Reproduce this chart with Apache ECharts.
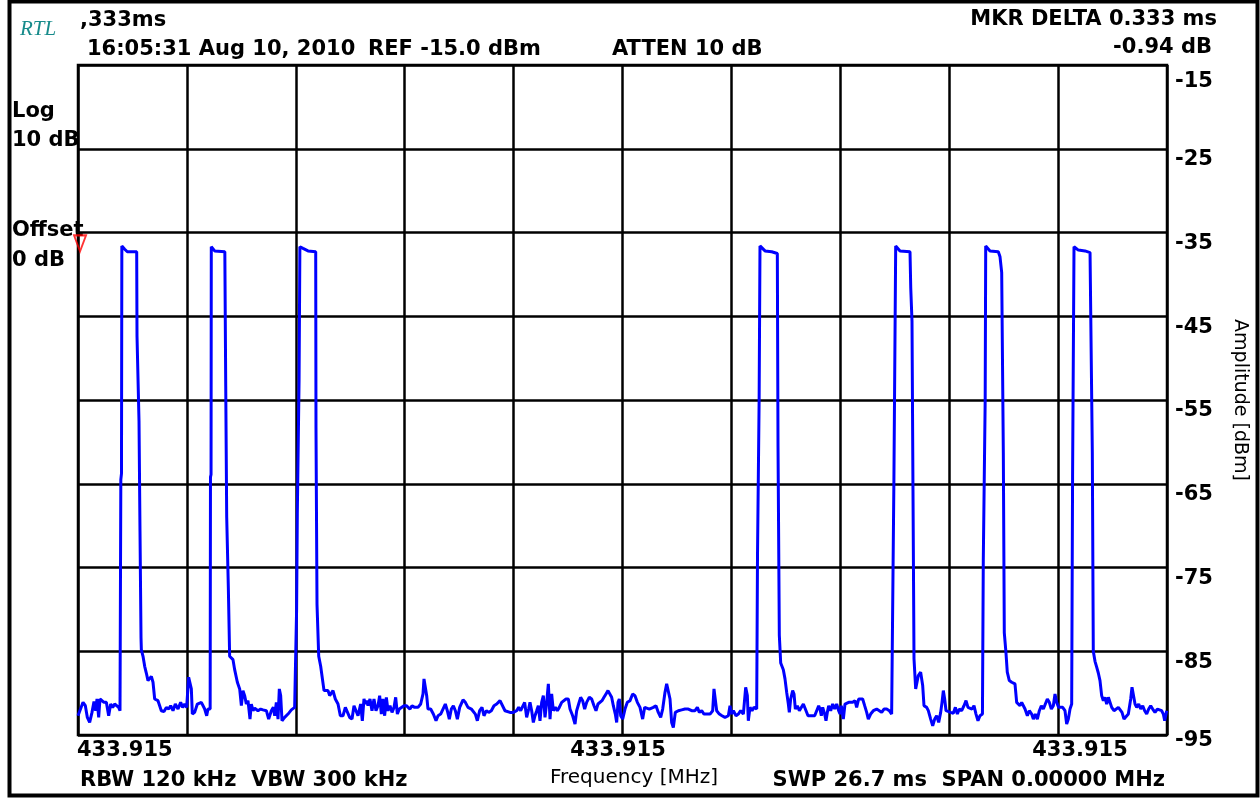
<!DOCTYPE html>
<html>
<head>
<meta charset="utf-8">
<script src="https://cdn.jsdelivr.net/npm/echarts@6/dist/echarts.min.js"></script>
<style>
  html, body { margin: 0; padding: 0; background: #fff; }
  #chart { width: 1260px; height: 799px; }
</style>
</head>
<body>
<div id="chart"></div>
<script>
// amplitude axis ticks (dBm)
var yTicks = [-15, -25, -35, -45, -55, -65, -75, -85, -95];
var sweepMs = 26.7;

// zero-span trace: [time ms, level dBm]
var trace = [
  [0.000,-92.7],[0.123,-91.1],[0.180,-91.5],[0.229,-92.9],[0.286,-93.5],[0.343,-92.3],[0.392,-91.0],[0.433,-92.1],[0.466,-90.7],[0.507,-92.9],[0.539,-90.7],[0.588,-90.7],[0.637,-91.1],[0.695,-91.1],[0.752,-92.7],[0.801,-91.3],[0.850,-91.7],[0.899,-91.3],[0.948,-91.1],[0.997,-91.7],[1.030,-92.1],
  [1.040,-92.2],[1.050,-64.5],[1.066,-63.8],[1.075,-36.6],[1.145,-37.0],[1.209,-37.3],[1.439,-37.3],[1.447,-47.4],[1.478,-47.6],[1.496,-57.6],[1.520,-70.6],[1.545,-83.4],[1.553,-84.8],[1.594,-85.6],[1.635,-86.8],[1.675,-87.6],[1.716,-88.5],[1.757,-88.3],[1.798,-88.0],[1.839,-88.7],[1.880,-90.7],[1.961,-90.9],[2.043,-92.1],[2.109,-92.2],[2.166,-91.7],[2.223,-91.9],[2.272,-91.5],[2.329,-92.1],[2.386,-91.3],[2.452,-91.9],[2.517,-91.1],[2.566,-91.7],[2.615,-91.3],[2.664,-91.7],[2.713,-88.1],[2.746,-88.0],[2.779,-89.5],[2.803,-92.5],[2.860,-92.3],[2.926,-91.3],[2.975,-91.5],[3.024,-91.1],[3.073,-91.3],[3.106,-91.9],[3.155,-92.7],[3.187,-91.9],[3.228,-91.7],
  [3.240,-91.9],[3.248,-64.2],[3.262,-63.9],[3.268,-36.7],[3.350,-37.2],[3.600,-37.3],[3.622,-53.3],[3.646,-69.0],[3.686,-77.4],[3.718,-85.6],[3.800,-86.0],[3.841,-87.2],[3.907,-88.7],[3.964,-89.5],[4.005,-91.5],[4.045,-89.7],[4.086,-90.3],[4.127,-91.3],[4.168,-90.9],[4.217,-93.1],[4.250,-91.3],[4.291,-92.1],[4.332,-91.8],[4.413,-92.1],[4.479,-91.9],[4.536,-92.0],[4.618,-92.1],[4.675,-93.1],[4.740,-92.1],[4.789,-91.7],[4.822,-92.7],[4.863,-91.1],[4.904,-93.1],[4.936,-89.5],[4.969,-90.3],[5.002,-93.3],[5.067,-92.9],[5.149,-92.5],[5.231,-92.0],[5.312,-91.7],[5.345,-91.5],
  [5.357,-91.5],[5.360,-80.0],[5.377,-68.6],[5.420,-52.7],[5.440,-36.7],[5.517,-36.9],[5.639,-37.2],[5.828,-37.3],[5.835,-58.3],[5.860,-79.4],[5.902,-85.6],[5.950,-86.8],[6.032,-89.7],[6.130,-89.7],[6.170,-90.3],[6.252,-89.7],[6.309,-90.7],[6.375,-91.3],[6.432,-92.7],[6.497,-92.7],[6.555,-91.7],[6.604,-91.5],[6.661,-92.9],[6.718,-93.1],[6.767,-91.5],[6.816,-91.3],[6.865,-92.7],[6.930,-91.3],[6.971,-93.3],[7.012,-90.7],[7.045,-91.3],[7.078,-90.9],[7.110,-91.5],[7.159,-90.7],[7.208,-92.1],[7.257,-90.7],[7.306,-92.1],[7.355,-91.5],[7.396,-90.3],[7.437,-92.5],[7.478,-90.7],[7.519,-92.7],[7.560,-90.5],[7.601,-92.1],[7.650,-91.5],[7.699,-92.3],[7.748,-91.7],[7.789,-90.5],[7.830,-92.5],[7.878,-91.9],[7.927,-92.1],[7.993,-91.5],
  [8.050,-91.5],[8.091,-91.3],[8.140,-91.9],[8.189,-91.5],[8.254,-91.7],[8.336,-91.7],[8.402,-91.3],[8.459,-90.1],[8.483,-88.3],[8.516,-88.5],[8.549,-90.3],[8.581,-91.9],[8.647,-91.9],[8.712,-92.5],[8.778,-93.3],[8.827,-92.7],[8.892,-92.5],[8.949,-91.9],[9.006,-91.3],[9.055,-92.1],[9.104,-93.1],[9.153,-91.9],[9.203,-91.5],[9.252,-92.1],[9.301,-93.1],[9.358,-91.7],[9.440,-90.8],[9.497,-91.1],[9.562,-91.7],[9.644,-91.9],[9.693,-91.8],[9.742,-92.5],[9.791,-93.3],[9.848,-92.1],[9.905,-91.7],[9.954,-92.7],[10.012,-92.1],[10.069,-92.3],[10.134,-92.1],[10.199,-91.5],[10.265,-91.3],
  [10.347,-90.9],[10.396,-91.1],[10.469,-92.1],[10.592,-92.3],[10.673,-92.3],[10.755,-92.1],[10.804,-91.7],[10.853,-92.1],[10.902,-92.3],[10.951,-91.1],[11.000,-92.9],[11.049,-91.9],[11.082,-91.1],[11.123,-92.1],[11.164,-93.5],[11.205,-92.7],[11.246,-92.1],[11.286,-91.5],[11.327,-93.3],[11.368,-91.1],[11.409,-90.3],[11.450,-92.9],[11.491,-91.1],[11.532,-88.9],[11.573,-93.1],[11.613,-90.1],[11.654,-92.1],[11.703,-91.7],[11.752,-92.1],[11.801,-91.7],[11.859,-91.1],[11.899,-90.9],[11.965,-90.7],[12.022,-90.7],[12.063,-91.9],[12.128,-92.7],[12.186,-93.7],[12.226,-92.1],[12.275,-91.3],[12.324,-90.5],[12.373,-90.9],[12.422,-91.9],[12.471,-91.1],[12.537,-90.5],[12.594,-90.7],[12.651,-91.5],[12.700,-92.1],[12.749,-91.3],[12.798,-91.1],[12.847,-90.9],[12.896,-90.5],[12.945,-90.1],[12.994,-89.7],[13.043,-89.9],[13.084,-90.5],[13.125,-91.5],[13.174,-92.5],[13.207,-93.5],[13.240,-91.1],[13.272,-90.7],[13.305,-92.7],[13.354,-93.1],[13.411,-91.9],[13.469,-91.1],[13.534,-90.9],[13.599,-90.1],[13.656,-90.3],[13.714,-91.1],[13.779,-91.7],[13.844,-93.1],[13.894,-91.7],[13.943,-91.5],
  [14.008,-91.9],[14.057,-92.1],[14.106,-91.7],[14.171,-91.5],[14.228,-92.3],[14.286,-92.9],[14.335,-91.9],[14.392,-89.9],[14.433,-88.9],[14.474,-88.7],[14.515,-90.7],[14.555,-93.5],[14.596,-94.1],[14.645,-92.3],[14.719,-92.1],[14.800,-92.0],[14.882,-91.9],[14.964,-91.9],[15.046,-92.1],[15.128,-92.1],[15.185,-91.7],[15.234,-92.3],[15.291,-92.1],[15.348,-92.5],[15.414,-92.5],[15.496,-92.5],[15.561,-92.1],[15.593,-89.5],[15.626,-89.5],[15.659,-92.1],[15.724,-92.5],[15.789,-92.7],[15.863,-92.9],[15.945,-92.7],[15.986,-91.5],[16.018,-92.5],[16.068,-92.1],[16.133,-92.7],[16.190,-92.5],[16.247,-92.1],[16.313,-92.5],[16.370,-89.3],[16.411,-90.3],[16.435,-93.3],[16.476,-91.7],[16.525,-92.1],[16.574,-91.7],[16.640,-91.9],
  [16.656,-91.9],[16.660,-73.6],[16.697,-73.4],[16.700,-54.9],[16.718,-54.7],[16.721,-36.6],[16.763,-36.8],[16.844,-37.2],[17.008,-37.3],[17.146,-37.5],[17.163,-60.5],[17.195,-83.1],[17.229,-86.4],[17.293,-87.2],[17.334,-88.3],[17.375,-89.9],[17.416,-91.3],[17.440,-92.3],[17.473,-90.7],[17.522,-89.7],[17.555,-90.1],[17.588,-91.9],[17.637,-91.5],[17.686,-92.1],[17.735,-91.9],[17.784,-91.3],[17.833,-91.9],[17.898,-92.7],[17.964,-92.7],[18.013,-92.5],[18.062,-92.7],[18.111,-92.5],[18.160,-91.5],[18.192,-91.9],[18.225,-92.7],[18.258,-91.7],[18.307,-92.5],[18.339,-93.3],[18.372,-92.3],[18.405,-91.5],[18.454,-92.1],[18.503,-91.3],[18.552,-91.9],[18.601,-91.3],[18.650,-92.1],[18.683,-92.5],[18.715,-91.5],[18.764,-93.1],[18.805,-91.3],[18.846,-91.5],[18.895,-91.1],[18.944,-91.3],[18.993,-91.1],[19.050,-90.9],[19.091,-91.7],[19.140,-90.7],[19.189,-90.5],[19.238,-90.7],[19.287,-91.5],[19.337,-92.3],[19.377,-93.1],[19.434,-92.5],[19.500,-92.1],[19.582,-91.9],[19.647,-92.1],[19.704,-92.3],[19.761,-91.9],[19.827,-91.9],[19.892,-92.1],[19.949,-92.5],[19.990,-92.5],
  [20.000,-92.5],[20.004,-64.7],[20.040,-64.5],[20.048,-36.6],[20.154,-37.2],[20.399,-37.3],[20.417,-41.6],[20.448,-45.6],[20.472,-65.7],[20.497,-85.9],[20.538,-89.5],[20.603,-87.9],[20.660,-87.5],[20.710,-89.1],[20.742,-91.5],[20.808,-91.7],[20.848,-92.1],[20.906,-93.1],[20.955,-93.9],[21.004,-93.1],[21.053,-92.7],[21.102,-93.5],[21.151,-92.3],[21.184,-91.1],[21.216,-89.7],[21.249,-90.7],[21.282,-92.1],[21.331,-92.3],[21.396,-92.3],[21.461,-92.4],[21.511,-91.7],[21.560,-92.5],[21.609,-91.9],[21.666,-92.1],[21.723,-91.5],[21.772,-90.9],[21.821,-91.7],[21.870,-91.5],[21.919,-91.9],[21.968,-91.5],[22.017,-92.5],[22.066,-93.3],[22.115,-92.7],
  [22.175,-92.5],[22.196,-74.0],[22.238,-73.8],[22.242,-55.1],[22.250,-54.9],[22.255,-36.6],[22.360,-37.2],[22.564,-37.3],[22.606,-37.9],[22.647,-39.8],[22.687,-61.3],[22.711,-82.8],[22.752,-85.2],[22.784,-87.5],[22.834,-88.5],[22.892,-88.7],[22.973,-88.9],[23.014,-91.1],[23.055,-90.9],[23.096,-91.5],[23.137,-91.1],[23.178,-91.3],[23.219,-91.9],[23.276,-92.7],[23.325,-92.1],[23.382,-92.5],[23.423,-93.1],[23.472,-92.5],[23.521,-93.1],[23.570,-92.1],[23.619,-91.5],[23.668,-91.9],[23.717,-91.3],[23.766,-90.7],[23.815,-91.1],[23.864,-91.9],[23.913,-91.5],[23.954,-90.1],[23.995,-91.1],[24.044,-91.7],[24.093,-91.9],[24.142,-91.7],[24.199,-92.1],[24.240,-93.7],[24.281,-93.1],[24.322,-91.9],[24.363,-91.3],
  [24.380,-91.3],[24.385,-64.1],[24.415,-63.9],[24.420,-36.7],[24.526,-37.1],[24.690,-37.2],[24.813,-37.4],[24.854,-37.6],[24.869,-61.3],[24.893,-85.0],[24.935,-86.2],[24.976,-86.9],[25.016,-87.6],[25.057,-88.5],[25.098,-90.3],[25.139,-90.9],[25.180,-90.5],[25.221,-91.3],[25.262,-90.5],[25.303,-90.7],[25.344,-91.7],[25.401,-92.1],[25.450,-92.3],[25.507,-91.7],[25.548,-91.5],[25.597,-92.3],[25.646,-93.1],[25.695,-92.9],[25.752,-92.5],[25.810,-90.7],[25.842,-89.3],[25.875,-89.5],[25.916,-91.3],[25.957,-91.7],[26.006,-91.3],[26.055,-91.9],[26.104,-91.5],[26.153,-92.1],[26.202,-92.5],[26.251,-91.9],[26.300,-91.5],[26.349,-91.9],[26.406,-92.3],[26.463,-91.9],[26.512,-91.7],[26.569,-92.1],[26.610,-92.5],[26.643,-93.3],[26.692,-92.1]
];

// delta marker position
var deltaMarker = [[0.05, -36.3]];

// header / footer annotation texts
var headerLeft = ',333ms';
var headerDate = '16:05:31 Aug 10, 2010';
var headerRef = 'REF -15.0 dBm';
var headerAtten = 'ATTEN 10 dB';
var headerMkr = ['MKR DELTA 0.333 ms', '-0.94 dB'];
var sideLabels = ['Log', '10 dB', 'Offset', '0 dB'];
var freqLabels = ['433.915', '433.915', '433.915'];
var footerLeft = 'RBW 120 kHz  VBW 300 kHz';
var footerRight = 'SWP 26.7 ms  SPAN 0.00000 MHz';

var boldFont = 'DejaVu Sans';
var myChart = echarts.init(document.getElementById('chart'));

function txt(x, y, text, opts) {
  opts = opts || {};
  return {
    type: 'text',
    x: x,
    y: y,
    style: {
      text: text,
      fill: opts.color || '#000',
      font: opts.font || ('bold 21px "' + boldFont + '"'),
      textAlign: opts.align || 'left',
      textVerticalAlign: 'middle'
    }
  };
}

var graphics = [
  // outer frame
  { type: 'rect', shape: { x: 9.5, y: 1.5, width: 1248, height: 794 },
    style: { fill: 'none', stroke: '#000', lineWidth: 4 } },
  txt(20, 29, 'RTL', { font: 'italic 21px "Liberation Serif"', color: '#178b8b' }),
  txt(80, 21, headerLeft),
  txt(87, 50, headerDate),
  txt(368, 50, headerRef),
  txt(612, 50, headerAtten),
  txt(1217, 20, headerMkr[0], { align: 'right' }),
  txt(1212, 48, headerMkr[1], { align: 'right' }),
  txt(12, 112, sideLabels[0]),
  txt(12, 141, sideLabels[1]),
  txt(12, 231, sideLabels[2]),
  txt(12, 261, sideLabels[3]),
  txt(77, 751, freqLabels[0]),
  txt(618, 751, freqLabels[1], { align: 'center' }),
  txt(1080, 751, freqLabels[2], { align: 'center' }),
  txt(80, 781, footerLeft),
  txt(634, 778, 'Frequency [MHz]', { font: '20px "' + boldFont + '"', align: 'center' }),
  txt(1165, 781, footerRight, { align: 'right' })
];

var option = {
  animation: false,
  backgroundColor: '#fff',
  grid: {
    left: 78,
    right: 93,
    top: 65,
    bottom: 64,
    outerBoundsMode: 'none',
    containLabel: false,
    show: true,
    borderColor: '#000',
    borderWidth: 2.5
  },
  xAxis: {
    type: 'value',
    min: 0,
    max: sweepMs,
    interval: sweepMs / 10,
    axisLine: { show: false },
    axisTick: { show: false },
    axisLabel: { show: false },
    splitLine: { show: true, lineStyle: { color: '#000', width: 2.5 } }
  },
  yAxis: {
    type: 'value',
    position: 'right',
    min: yTicks[yTicks.length - 1],
    max: yTicks[0],
    interval: 10,
    name: 'Amplitude [dBm]',
    nameLocation: 'middle',
    nameRotate: -90,
    nameGap: 63,
    nameTextStyle: { fontFamily: boldFont, fontSize: 19, color: '#000' },
    axisLine: { show: false },
    axisTick: { show: false },
    axisLabel: {
      margin: 8,
      verticalAlign: 'top',
      color: '#000',
      fontFamily: boldFont,
      fontWeight: 'bold',
      fontSize: 21,
      lineHeight: 22,
      formatter: function (v) {
        if (v === yTicks[0]) return '{t|' + v + '}';
        if (v === yTicks[yTicks.length - 1]) return '{b|' + v + '}';
        return String(v);
      },
      rich: {
        t: { fontFamily: boldFont, fontWeight: 'bold', fontSize: 21, color: '#000', lineHeight: 34 },
        b: { fontFamily: boldFont, fontWeight: 'bold', fontSize: 21, color: '#000', lineHeight: 11 }
      }
    },
    splitLine: { show: true, lineStyle: { color: '#000', width: 2.5 } }
  },
  series: [{
    type: 'line',
    data: trace,
    showSymbol: false,
    symbol: 'none',
    lineStyle: { color: '#0000ff', width: 3 },
    z: 3
  }, {
    type: 'scatter',
    data: deltaMarker,
    symbol: 'triangle',
    symbolRotate: 180,
    symbolSize: [12, 16],
    itemStyle: { color: 'rgba(0,0,0,0)', borderColor: '#ff0000', borderWidth: 2 },
    z: 4
  }],
  graphic: graphics
};

myChart.setOption(option);
</script>
</body>
</html>
